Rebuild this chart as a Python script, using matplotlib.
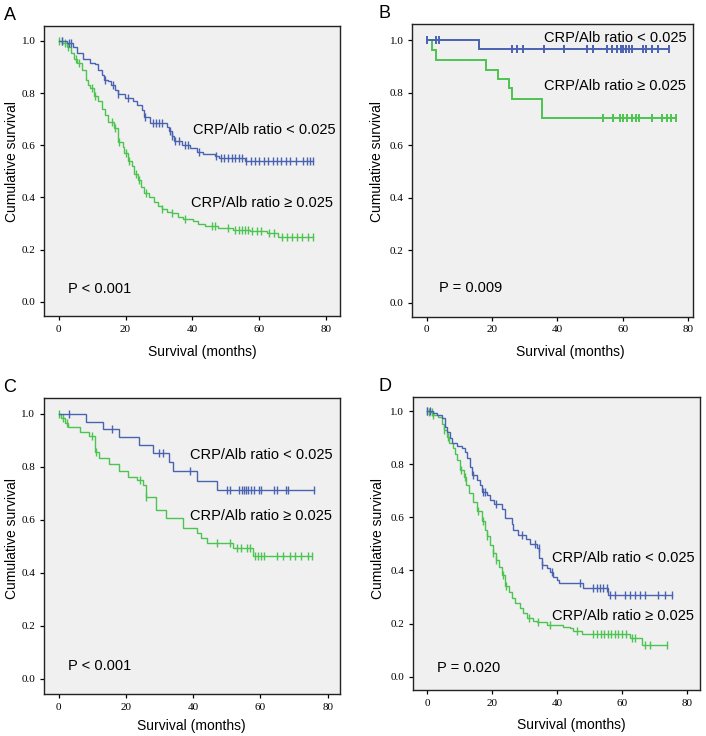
import numpy as np
import matplotlib
matplotlib.use("Agg")
import matplotlib.pyplot as plt

# ---------------- data ----------------
# Panel A
a_lo_t = [2.4, 4.4, 5.4, 7.4, 9.4, 10.9, 11.9, 12.9, 13.7, 14.9, 15.7, 16.9, 17.9, 19.9, 22.3, 23.3, 24.8,
          25.5, 27.3, 32.3, 33.1, 33.8, 34.5, 36.8, 39.3, 41.3, 43.3, 46.8, 48.0, 55.8]
a_lo_s = [0.99, 0.975, 0.955, 0.93, 0.915, 0.91, 0.89, 0.87, 0.85, 0.845, 0.83, 0.81, 0.795, 0.78, 0.77, 0.755,
          0.735, 0.71, 0.685, 0.67, 0.655, 0.635, 0.615, 0.60, 0.59, 0.576, 0.566, 0.558, 0.553, 0.538]
a_lo_c = [0.9, 3.0, 3.8, 14.0, 16.2, 17.9, 20.8, 25.9, 28.1, 29.0, 30.1, 31.0, 33.3, 34.0, 34.9, 35.9, 37.7,
          38.7, 41.9, 47.2, 48.5, 49.6, 50.7, 51.8, 52.9, 54.0, 55.0, 56.2, 57.5, 58.8, 60.1, 61.4, 62.7,
          64.0, 65.3, 66.6, 67.9, 69.2, 71.0, 73.0, 74.3, 75.3, 76.2]
a_hi_t = [1.0, 2.4, 3.6, 4.6, 5.4, 6.9, 8.2, 8.9, 9.4, 10.7, 11.9, 12.9, 13.9, 14.9, 16.7, 17.9, 19.2, 19.6,
          20.8, 21.8, 22.6, 23.6, 24.6, 25.5, 27.1, 28.5, 29.8, 30.8, 32.3, 33.8, 35.8, 37.1, 40.3, 41.8,
          43.8, 47.8, 52.3, 57.3, 62.2, 65.7]
a_hi_s = [0.99, 0.977, 0.953, 0.93, 0.915, 0.89, 0.85, 0.83, 0.82, 0.79, 0.77, 0.74, 0.716, 0.69, 0.665,
          0.614, 0.595, 0.57, 0.54, 0.52, 0.49, 0.467, 0.44, 0.416, 0.40, 0.384, 0.368, 0.355, 0.346, 0.34,
          0.327, 0.317, 0.308, 0.30, 0.29, 0.282, 0.276, 0.272, 0.263, 0.248]
a_hi_c = [0.0, 0.9, 1.9, 2.9, 5.2, 6.1, 9.9, 11.0, 15.9, 17.0, 18.0, 20.0, 21.1, 23.1, 24.1, 26.0, 31.0,
          34.0, 37.8, 45.8, 46.8, 50.7, 52.8, 53.9, 54.9, 55.8, 56.7, 58.0, 59.3, 60.6, 62.9, 64.4, 66.7,
          68.2, 69.7, 71.2, 72.7, 74.5, 76.2]

# Panel B
b_lo_t = [15.9]
b_lo_s = [0.964]
b_lo_c = [0.0, 2.9, 3.9, 26.0, 27.6, 29.6, 36.0, 41.9, 49.0, 51.0, 55.1, 56.6, 58.2, 59.4, 60.2, 61.0,
          61.8, 62.8, 66.1, 67.1, 68.9, 70.9, 74.2]
b_hi_t = [1.6, 2.9, 18.0, 21.9, 25.3, 26.0, 35.2]
b_hi_s = [0.962, 0.924, 0.886, 0.85, 0.816, 0.777, 0.704]
b_hi_c = [53.9, 57.0, 59.0, 60.2, 61.2, 62.9, 64.0, 64.9, 68.9, 72.1, 73.5, 74.7, 76.3]

# Panel C
c_lo_t = [8.1, 13.1, 17.9, 24.0, 28.1, 32.9, 34.1, 41.0, 47.2]
c_lo_s = [0.971, 0.942, 0.912, 0.882, 0.852, 0.82, 0.785, 0.748, 0.712]
c_lo_c = [3.0, 16.0, 29.9, 31.1, 39.0, 50.0, 51.0, 53.5, 54.5, 55.0, 55.7, 56.4, 57.2, 58.0, 59.5, 60.2,
          64.0, 65.0, 67.6, 68.2, 76.0]
c_hi_t = [0.7, 1.9, 2.9, 6.3, 9.1, 10.8, 12.1, 15.1, 17.9, 20.7, 23.2, 25.2, 26.0, 28.9, 31.9, 36.9,
          41.0, 42.3, 44.0, 51.9, 57.7]
c_hi_s = [0.984, 0.967, 0.952, 0.933, 0.918, 0.855, 0.833, 0.81, 0.785, 0.763, 0.75, 0.73, 0.688, 0.638,
          0.609, 0.569, 0.55, 0.531, 0.512, 0.493, 0.462]
c_hi_c = [0.0, 1.4, 2.4, 9.8, 11.1, 24.2, 26.0, 47.0, 50.9, 52.9, 54.2, 55.9, 56.9, 58.4, 59.4, 60.2,
          61.2, 64.8, 66.8, 68.8, 70.3, 72.2, 74.2, 75.2]

# Panel D
d_lo_t = [1.8, 3.1, 4.4, 5.4, 6.2, 7.0, 7.5, 9.0, 10.6, 11.6, 12.3, 13.0, 13.7, 15.2, 16.2, 16.7, 18.3,
          19.3, 20.5, 22.9, 23.9, 25.9, 26.5, 28.0, 30.4, 31.6, 33.6, 34.5, 35.2, 36.7, 37.7, 38.8, 39.8,
          40.6, 48.0, 55.7]
d_lo_s = [0.994, 0.985, 0.975, 0.941, 0.92, 0.90, 0.878, 0.87, 0.86, 0.845, 0.822, 0.79, 0.76, 0.74, 0.72,
          0.696, 0.684, 0.665, 0.649, 0.63, 0.596, 0.574, 0.552, 0.533, 0.52, 0.50, 0.483, 0.445, 0.42,
          0.408, 0.393, 0.376, 0.364, 0.351, 0.335, 0.307]
d_lo_c = [0.0, 0.8, 14.2, 17.0, 17.7, 21.0, 29.0, 33.1, 34.4, 35.4, 38.3, 47.0, 51.1, 52.1, 53.1, 54.2,
          55.2, 56.2, 57.7, 60.8, 62.3, 63.8, 65.4, 66.9, 71.1, 73.1, 75.2]
d_hi_t = [0.6, 1.8, 3.4, 4.4, 5.1, 5.9, 6.8, 7.8, 8.5, 9.2, 10.1, 11.3, 11.9, 12.9, 14.2, 15.2, 16.7, 17.7,
          18.3, 19.3, 20.1, 21.1, 22.2, 22.9, 23.9, 25.2, 25.9, 27.0, 28.5, 29.5, 30.6, 32.6, 33.6, 36.7,
          41.8, 43.9, 44.9, 47.5, 62.4, 65.9]
d_hi_s = [0.995, 0.987, 0.979, 0.953, 0.928, 0.903, 0.878, 0.86, 0.84, 0.815, 0.778, 0.753, 0.722, 0.69,
          0.659, 0.624, 0.586, 0.552, 0.53, 0.496, 0.465, 0.44, 0.414, 0.383, 0.343, 0.32, 0.295, 0.277,
          0.257, 0.238, 0.222, 0.21, 0.205, 0.195, 0.188, 0.182, 0.173, 0.16, 0.144, 0.119]
d_hi_c = [0.0, 0.6, 1.3, 1.8, 5.2, 6.3, 10.3, 11.6, 15.7, 17.0, 18.3, 20.3, 21.2, 23.2, 24.2, 31.3, 33.9,
          37.7, 46.0, 51.1, 52.2, 53.3, 54.4, 55.5, 56.6, 57.7, 58.8, 59.9, 61.0, 62.9, 63.9, 67.0, 68.5, 73.7]

panel_letters = ["A", "B", "C", "D"]
p_texts = ["P < 0.001", "P = 0.009", "P < 0.001", "P = 0.020"]
label_lo = "CRP/Alb ratio < 0.025"
label_hi = "CRP/Alb ratio \u2265 0.025"
x_ticks = [0, 20, 40, 60, 80]
y_ticks = [0.0, 0.2, 0.4, 0.6, 0.8, 1.0]

BLUE = "#4a62b2"
GREEN = "#4cc450"
BG = "#f0f0f0"

# layout (figure fractions) and per-panel settings
axes_rect = [
    [0.0623, 0.5707, 0.4193, 0.3940],
    [0.5836, 0.5697, 0.3976, 0.3977],
    [0.0619, 0.0567, 0.4197, 0.4021],
    [0.5846, 0.0625, 0.4069, 0.3985],
]
xlims = [(-4.4, 84.2), (-4.5, 81.4), (-4.46, 83.66), (-4.5, 83.9)]
ylims = [(-0.054, 1.057), (-0.053, 1.061), (-0.058, 1.059), (-0.05, 1.054)]
lo_text_pos = [(40.1, 0.659), (35.9, 1.006), (39.0, 0.845), (38.5, 0.448)]
hi_text_pos = [(39.6, 0.378), (35.9, 0.825), (39.0, 0.616), (38.5, 0.230)]
p_pos = [(2.9, 0.049), (3.9, 0.058), (2.9, 0.047), (3.1, 0.031)]
xlab_pos = [(0.534, -0.123), (0.563, -0.120), (0.4995, -0.106), (0.553, -0.119)]
ylab_pos = [(-0.109, 0.534), (-0.124, 0.530), (-0.108, 0.527), (-0.120, 0.517)]
letter_pos = [(4 / 706, 1 - 20 / 736), (378 / 706, 1 - 18 / 736), (3 / 706, 1 - 392 / 736), (378 / 706, 1 - 391 / 736)]
lws = [1.0, 1.4, 1.0, 1.0]

data = [
    ((a_lo_t, a_lo_s, a_lo_c), (a_hi_t, a_hi_s, a_hi_c)),
    ((b_lo_t, b_lo_s, b_lo_c), (b_hi_t, b_hi_s, b_hi_c)),
    ((c_lo_t, c_lo_s, c_lo_c), (c_hi_t, c_hi_s, c_hi_c)),
    ((d_lo_t, d_lo_s, d_lo_c), (d_hi_t, d_hi_s, d_hi_c)),
]

SANS = ["Liberation Sans", "DejaVu Sans"]
SERIF = ["Liberation Serif", "DejaVu Serif"]


def km(ax, t, s, c, color, lw):
    t = np.asarray(t, float)
    s = np.asarray(s, float)
    c = np.asarray(c, float)
    end = max(t.max(), c.max())
    xs = np.concatenate([[0.0], t, [end]])
    ys = np.concatenate([[1.0], s, [s[-1]]])
    ax.step(xs, ys, where="post", color=color, lw=lw, solid_joinstyle="miter")
    idx = np.searchsorted(t, c, side="right")
    yc = np.concatenate([[1.0], s])[idx]
    ax.plot(c, yc, ls="none", marker="|", ms=6 if lw > 1.2 else 5.5, mew=lw, color=color)


fig = plt.figure(figsize=(7.06, 7.36), dpi=100)
fig.patch.set_facecolor("white")

for i in range(4):
    ax = fig.add_axes(axes_rect[i])
    ax.set_facecolor(BG)
    (lo, hi) = data[i]
    km(ax, *hi, GREEN, lws[i])
    km(ax, *lo, BLUE, lws[i])
    ax.set_xlim(*xlims[i])
    ax.set_ylim(*ylims[i])
    ax.set_xticks(x_ticks)
    ax.set_yticks(y_ticks)
    ax.set_xticklabels([str(v) for v in x_ticks], fontfamily=SERIF, fontsize=8)
    ax.set_yticklabels(["%.1f" % v for v in y_ticks], fontfamily=SERIF, fontsize=8)
    ax.tick_params(direction="out", length=3.2, width=0.9, pad=3, colors="black")
    for sp in ax.spines.values():
        sp.set_linewidth(1.0)
        sp.set_color("#222222")
    ax.text(*lo_text_pos[i], label_lo, fontfamily=SANS, fontsize=10.5, ha="left", va="center")
    ax.text(*hi_text_pos[i], label_hi, fontfamily=SANS, fontsize=10.5, ha="left", va="center")
    ax.text(*p_pos[i], p_texts[i], fontfamily=SANS, fontsize=10.5, ha="left", va="center")
    ax.set_xlabel("Survival (months)", fontfamily=SANS, fontsize=10)
    ax.xaxis.label.set_va("center")
    ax.xaxis.set_label_coords(*xlab_pos[i])
    ax.set_ylabel("Cumulative survival", fontfamily=SANS, fontsize=10)
    ax.yaxis.label.set_va("center")
    ax.yaxis.set_label_coords(*ylab_pos[i])
    fig.text(*letter_pos[i], panel_letters[i], fontfamily=SANS, fontsize=13, ha="left", va="baseline")

fig.savefig("out.png", dpi=100, facecolor="white")
